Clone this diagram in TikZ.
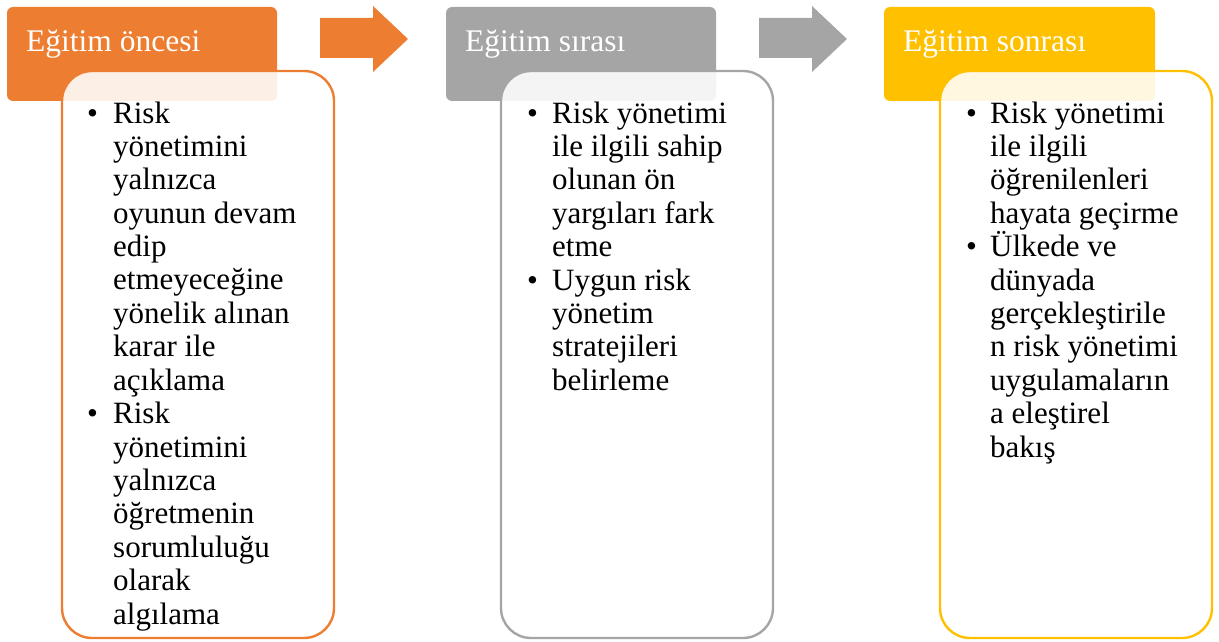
\documentclass[tikz,border=0pt]{standalone}
\usepackage{fontspec}
\setmainfont{Liberation Serif}
\definecolor{corange}{HTML}{ED7D31}
\definecolor{cgray}{HTML}{A5A5A5}
\definecolor{cyellow}{HTML}{FFC000}
\newcommand{\lines}[1]{\parbox[t]{260pt}{\raggedright #1}}
\begin{document}
\begin{tikzpicture}[x=1pt,y=-1pt,
  header/.style={fill=#1, draw=none, rounded corners=6pt},
  card/.style={draw=#1, line width=2.4pt, fill=white, fill opacity=0.88, rounded corners=30pt},
  htext/.style={anchor=base west, inner sep=0pt, text=white, font=\fontsize{31.5}{36}\selectfont},
  btext/.style={anchor=base west, inner sep=0pt, text=black, font=\fontsize{31}{33.4}\selectfont},
  bullet/.style={anchor=base west, inner sep=0pt, text=black, font=\fontsize{31}{33.4}\selectfont},
  bigarrow/.style={fill=#1, draw=none}
]
\useasboundingbox (0,0) rectangle (1219,642);

% ---------- column 1 ----------
\fill[header=corange] (7,7) rectangle (277,101);
\node[htext] (h1) at (26,52) {Eğitim öncesi};
\draw[card=corange] (62,71) rectangle (334,638);
\node[bullet] (b11) at (87,123) {•};
\node[btext] (t11) at (113,123) {\lines{Risk\\yönetimini\\yalnızca\\oyunun devam\\edip\\etmeyeceğine\\yönelik alınan\\karar ile\\açıklama}};
\node[bullet] (b12) at (87,423.6) {•};
\node[btext] (t12) at (113,423.6) {\lines{Risk\\yönetimini\\yalnızca\\öğretmenin\\sorumluluğu\\olarak\\algılama}};

% arrow 1
\fill[bigarrow=corange] (320,18) -- (373,18) -- (373,6) -- (408,39) -- (373,72) -- (373,58) -- (320,58) -- cycle;

% ---------- column 2 ----------
\fill[header=cgray] (446,7) rectangle (716,101);
\node[htext] (h2) at (465,52) {Eğitim sırası};
\draw[card=cgray] (501,71) rectangle (773,638);
\node[bullet] (b21) at (527,123) {•};
\node[btext] (t21) at (552,123) {\lines{Risk yönetimi\\ile ilgili sahip\\olunan ön\\yargıları fark\\etme}};
\node[bullet] (b22) at (527,290) {•};
\node[btext] (t22) at (552,290) {\lines{Uygun risk\\yönetim\\stratejileri\\belirleme}};

% arrow 2
\fill[bigarrow=cgray] (759,18) -- (812,18) -- (812,6) -- (847,39) -- (812,72) -- (812,58) -- (759,58) -- cycle;

% ---------- column 3 ----------
\fill[header=cyellow] (884,7) rectangle (1155,101);
\node[htext] (h3) at (903,52) {Eğitim sonrası};
\draw[card=cyellow] (940,71) rectangle (1212,638);
\node[bullet] (b31) at (966,123) {•};
\node[btext] (t31) at (990,123) {\lines{Risk yönetimi\\ile ilgili\\öğrenilenleri\\hayata geçirme}};
\node[bullet] (b32) at (966,256.6) {•};
\node[btext] (t32) at (990,256.6) {\lines{Ülkede ve\\dünyada\\gerçekleştirile\\n risk yönetimi\\uygulamaların\\a eleştirel\\bakış}};
\end{tikzpicture}
\end{document}
